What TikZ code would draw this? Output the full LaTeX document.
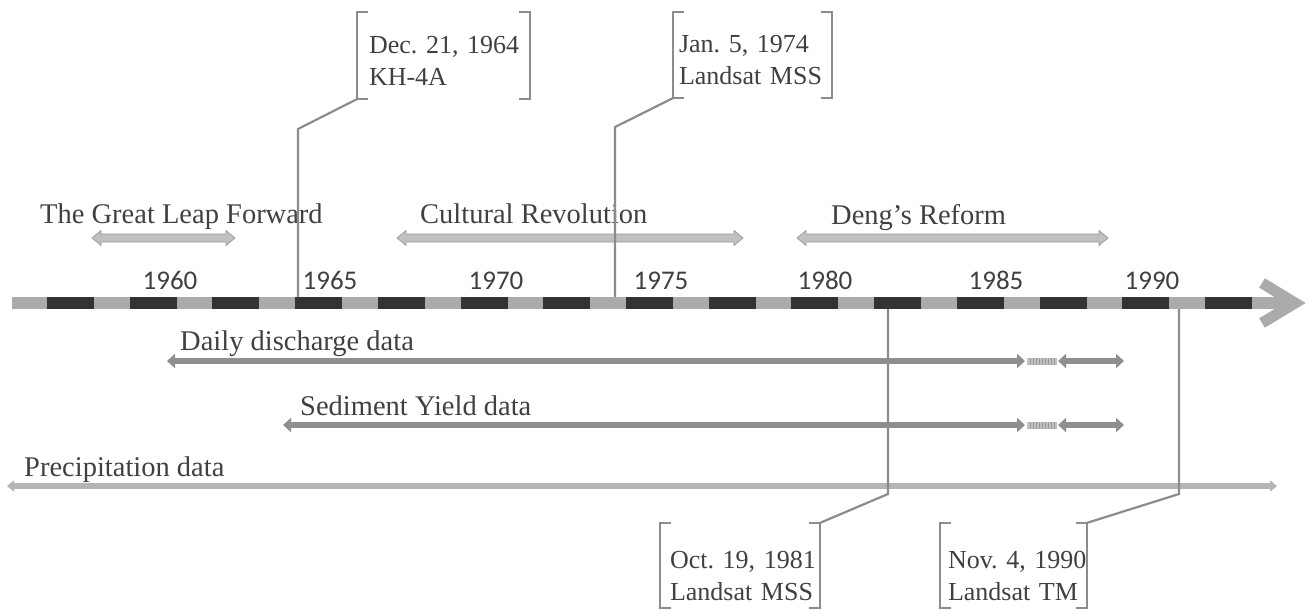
\documentclass[tikz,border=0pt]{standalone}
\usepackage{fontspec}
\setmainfont{Liberation Serif}
\newfontfamily\yearfont{Carlito}
\usetikzlibrary{arrows.meta}
\definecolor{txt}{HTML}{404040}
\definecolor{barlight}{HTML}{ABABAB}
\definecolor{bardark}{HTML}{333333}
\definecolor{linegray}{HTML}{8C8C8C}
\definecolor{datagray}{HTML}{8F8F8F}
\definecolor{precgray}{HTML}{B5B5B5}
\definecolor{hatchfill}{HTML}{C0C0C0}
\definecolor{hatchline}{HTML}{9A9A9A}
\newcommand\mybrackets[1]{%
  \draw[brk] ([xshift=11pt]#1.north west) -- (#1.north west) -- (#1.south west) -- ([xshift=11pt]#1.south west);
  \draw[brk] ([xshift=-11pt]#1.north east) -- (#1.north east) -- (#1.south east) -- ([xshift=-11pt]#1.south east);}
\newcommand\periodarrow[3]{%
  \filldraw[period] (#1,#3) -- ({#1+9},{#3-7.5}) -- ({#1+9},{#3-4}) -- ({#2-9},{#3-4}) -- ({#2-9},{#3-7.5}) -- (#2,#3)
    -- ({#2-9},{#3+7.5}) -- ({#2-9},{#3+4}) -- ({#1+9},{#3+4}) -- ({#1+9},{#3+7.5}) -- cycle;}
\newcommand\hatchbox[3]{%
  \fill[hatchfill] (#1,{#3-3.5}) rectangle (#2,{#3+3.5});
  \foreach \hx in {1,...,9} \draw[hatchline, line width=0.8pt] ({#1+\hx*3},{#3-3.5}) -- ({#1+\hx*3},{#3+3.5});}
\frenchspacing
\begin{document}
\begin{tikzpicture}[x=1pt,y=-1pt,
  lbl/.style={text=txt, font=\fontsize{28.5}{32}\selectfont, inner sep=0pt, anchor=base west},
  yr/.style={text=txt, font=\yearfont\fontsize{27}{30}\selectfont, inner sep=0pt, anchor=base},
  callout/.style={text=txt, font=\fontsize{26}{32}\selectfont, align=left, inner ysep=0pt, minimum height=#1},
  brk/.style={draw=linegray, line width=2.2pt, line cap=butt, line join=miter},
  conn/.style={draw=linegray, line width=2.2pt},
  period/.style={fill=hatchfill, draw=hatchline, line width=0.7pt},
  data/.style={draw=datagray, line width=6pt},
  prec/.style={draw=precgray, line width=5.5pt}]
\useasboundingbox (0,0) rectangle (1308,613);

% main timeline
\fill[barlight] (12,297) rectangle (1293,309);
\draw[barlight, line width=11pt, line join=miter, line cap=butt] (1262,283) -- (1295,303) -- (1262,323);
\foreach \i in {0,...,14} \fill[bardark] ({47+\i*82.72},297) rectangle ++(47,12);

% year labels
\node[yr] (y60) at (170,289) {1960};
\node[yr] (y65) at (330,289) {1965};
\node[yr] (y70) at (496,289) {1970};
\node[yr] (y75) at (661,289) {1975};
\node[yr] (y80) at (825,289) {1980};
\node[yr] (y85) at (996,289) {1985};
\node[yr] (y90) at (1152,289) {1990};

% periods
\node[lbl] (glf) at (40,223) {The Great Leap Forward};
\node[lbl] (cr) at (420,223) {Cultural Revolution};
\node[lbl] (dr) at (831,224) {Deng’s Reform};
\periodarrow{92}{235}{238}
\periodarrow{397}{743}{238}
\periodarrow{797}{1108}{238}

% data series
\node[lbl] (ddl) at (180,350) {Daily discharge data};
\draw[data, {Triangle[length=8pt,width=14pt]}-{Triangle[length=8pt,width=14pt]}] (167,361) -- (1025,361);
\hatchbox{1027}{1057}{361}
\draw[data, {Triangle[length=8pt,width=14pt]}-{Triangle[length=8pt,width=14pt]}] (1058,361) -- (1124,361);

\node[lbl] (syl) at (300,415) {Sediment Yield data};
\draw[data, {Triangle[length=8pt,width=14pt]}-{Triangle[length=8pt,width=14pt]}] (283,425) -- (1025,425);
\hatchbox{1027}{1057}{425}
\draw[data, {Triangle[length=8pt,width=14pt]}-{Triangle[length=8pt,width=14pt]}] (1058,425) -- (1124,425);

\node[lbl] (pl) at (24,476) {Precipitation data};
\draw[prec, {Triangle[length=7pt,width=11pt]}-{Triangle[length=7pt,width=11pt]}] (7,486) -- (1277,486);

% callouts
\node[callout=87pt, inner xsep=12pt, text width=149pt] (c64) at (443.5,55.5) {\rule{0pt}{27pt}Dec.~21,~1964\\KH-4A};
\node[callout=86pt, inner xsep=6pt, text width=147pt] (c74) at (752.5,55) {\rule{0pt}{27pt}Jan.~5,~1974\\Landsat~MSS};
\node[callout=85pt, inner xsep=10pt, text width=140pt] (c81) at (740,565.5) {\rule{0pt}{38pt}Oct.~19,~1981\\Landsat~MSS};
\node[callout=85pt, inner xsep=8pt, text width=131pt] (c90) at (1013.5,565.5) {\rule{0pt}{38pt}Nov.~4,~1990\\Landsat~TM};
\mybrackets{c64}
\mybrackets{c74}
\mybrackets{c81}
\mybrackets{c90}

\coordinate (b64) at (298,297);
\coordinate (e64) at (298,129);
\coordinate (b74) at (615,297);
\coordinate (e74) at (615,127);
\coordinate (b81) at (888,309);
\coordinate (e81) at (888,494);
\coordinate (b90) at (1179,309);
\coordinate (e90) at (1179,494);
\draw[conn] (b64) -- (e64) -- (c64.south west);
\draw[conn] (b74) -- (e74) -- (c74.south west);
\draw[conn] (b81) -- (e81) -- (c81.north east);
\draw[conn] (b90) -- (e90) -- (c90.north east);
\end{tikzpicture}
\end{document}
